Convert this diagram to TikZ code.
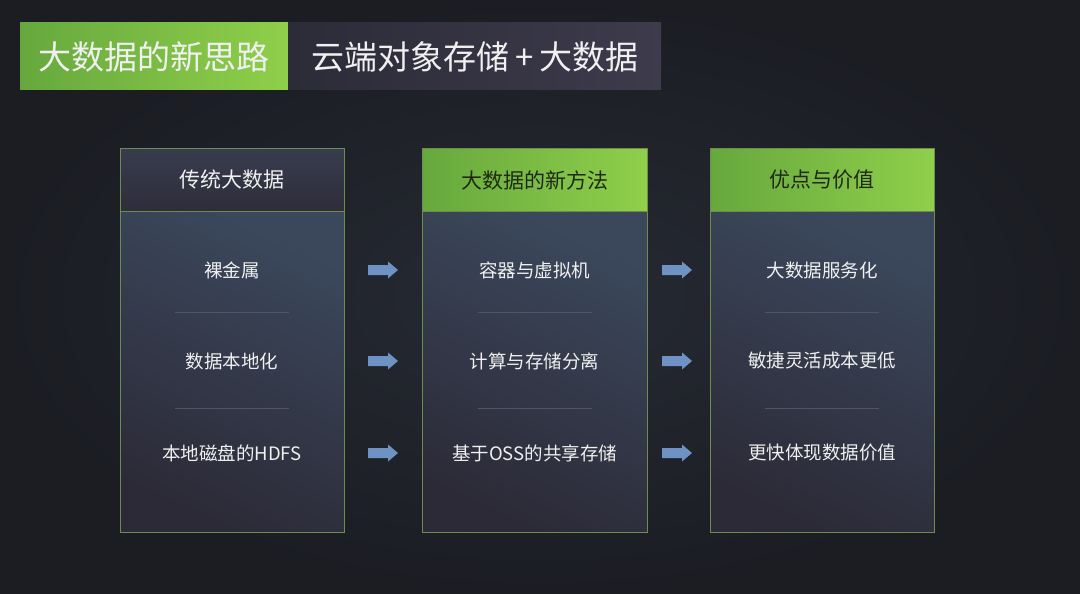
\documentclass[tikz,border=0pt]{standalone}
\usepackage{fontspec}
\setmainfont{Noto Sans CJK SC}
\definecolor{bgc}{HTML}{1B1D23}
\definecolor{bgin}{HTML}{262A33}
\definecolor{gl}{HTML}{67A83E}
\definecolor{gr}{HTML}{8FCF4A}
\definecolor{tdl}{HTML}{2C2B38}
\definecolor{tdr}{HTML}{3D3B4C}
\definecolor{bodytl}{HTML}{3B485C}
\definecolor{bodybr}{HTML}{2C2A37}
\definecolor{hdl}{HTML}{373D4E}
\definecolor{hdr}{HTML}{2F2D3A}
\definecolor{edgec}{HTML}{6E8C4E}
\definecolor{arr}{HTML}{6F92C4}
\definecolor{divc}{HTML}{4E5666}
\definecolor{txt}{HTML}{F0F0F0}
\definecolor{htxt}{HTML}{1E2A16}
\tikzset{
  x=1pt,y=-1pt,
  colbody/.style={draw=edgec, line width=0.9pt, top color=bodytl, bottom color=bodybr, shading angle=-25},
  hdgreen/.style={draw=edgec, line width=0.9pt, left color=gl, right color=gr},
  hddark/.style={draw=edgec, line width=0.9pt, top color=hdl, bottom color=hdr},
  celltxt/.style={text=txt, font=\fontsize{18.5}{22}\selectfont},
  hdtxt/.style={font=\fontsize{21}{25}\selectfont},
  titletxt/.style={text=txt, font=\fontsize{33}{38}\selectfont},
  divline/.style={draw=divc, line width=1pt},
  flowarrow/.pic={\fill[arr] (-15,-5) -- (5,-5) -- (5,-8.5) -- (15,0) -- (5,8.5) -- (5,5) -- (-15,5) -- cycle;},
}
\begin{document}
\begin{tikzpicture}
\useasboundingbox (0,0) rectangle (1080,594);
\fill[inner color=bgin, outer color=bgc] (0,0) rectangle (1080,594);
% title
\fill[left color=gl, right color=gr] (20,23) rectangle (288,90);
\fill[left color=tdl, right color=tdr] (288,23) rectangle (661,90);
\node[titletxt] (t1) at (154,56.5) {大数据的新思路};
\node[titletxt] (t2) at (475,56.5) {云端对象存储\,+\,大数据};
% columns
\path[colbody] (120,211) rectangle (344,532);
\path[colbody] (422,211) rectangle (647,532);
\path[colbody] (710,211) rectangle (934,532);
\path[hddark] (120,148) rectangle (344,211);
\path[hdgreen] (422,148) rectangle (647,211);
\path[hdgreen] (710,148) rectangle (934,211);
\node[hdtxt, text=txt] (h1) at (232,180) {传统大数据};
\node[hdtxt, text=htxt] (h2) at (534.5,180) {大数据的新方法};
\node[hdtxt, text=htxt] (h3) at (822,180) {优点与价值};
% cells
\node[celltxt] (a1) at (232,270) {裸金属};
\node[celltxt] (a2) at (232,361) {数据本地化};
\node[celltxt] (a3) at (232,453) {本地磁盘的HDFS};
\node[celltxt] (b1) at (534.5,270) {容器与虚拟机};
\node[celltxt] (b2) at (534.5,361) {计算与存储分离};
\node[celltxt] (b3) at (534.5,453) {基于OSS的共享存储};
\node[celltxt] (d1) at (822,270) {大数据服务化};
\node[celltxt] (d2) at (822,361) {敏捷灵活成本更低};
\node[celltxt] (d3) at (822,453) {更快体现数据价值};
% dividers
\foreach \cx in {232,534.5,822}{
  \draw[divline] (\cx-57,312) -- (\cx+57,312);
  \draw[divline] (\cx-57,408) -- (\cx+57,408);
}
% arrows
\foreach \y in {270,361,453}{
  \pic at (383,\y) {flowarrow};
  \pic at (677,\y) {flowarrow};
}
\end{tikzpicture}
\end{document}
